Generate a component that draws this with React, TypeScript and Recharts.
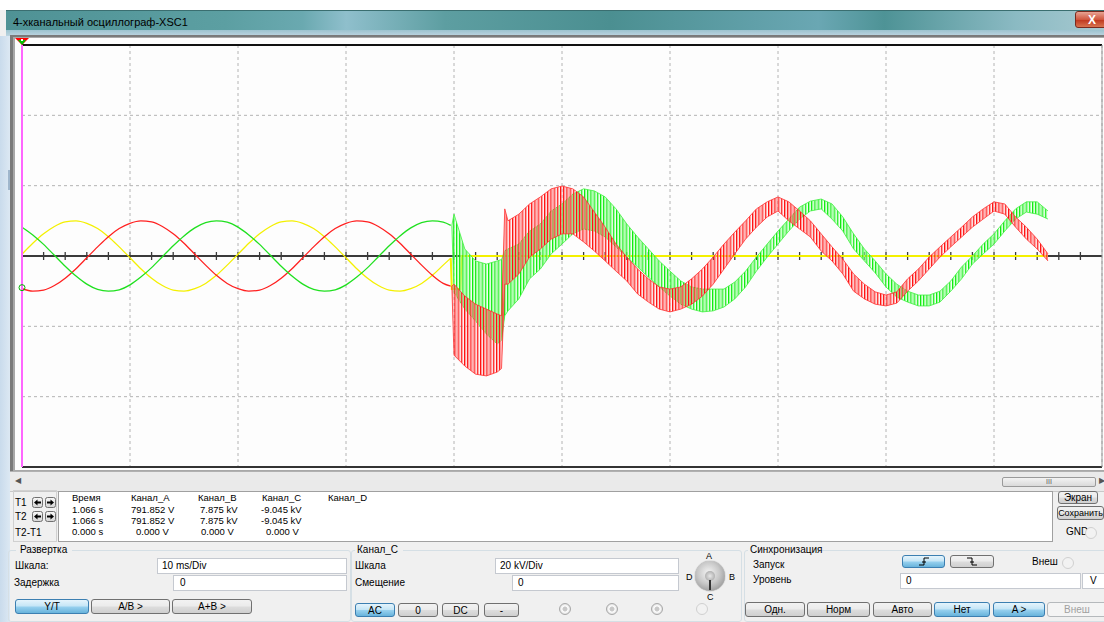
import React from 'react';
import {
  ComposedChart,
  Line,
  Area,
  Scatter,
  XAxis,
  YAxis,
  CartesianGrid,
  ReferenceLine,
  ReferenceDot,
} from 'recharts';

// ---------- DATA (time in ms, values in kV; 10 ms/Div, 20 kV/Div) ----------
const gridTimes = [0, 10, 20, 30, 40, 50, 60, 70, 80, 90, 100];
const gridLevels = [-60, -40, -20, 0, 20, 40, 60];
const axisTickTimes = [
  2, 4, 6, 8, 10, 12, 14, 16, 18, 20, 22, 24, 26, 28, 30, 32, 34, 36, 38, 40, 42, 44, 46, 48, 50,
  52, 54, 56, 58, 60, 62, 64, 66, 68, 70, 72, 74, 76, 78, 80, 82, 84, 86, 88, 90, 92, 94, 96, 98,
];

// before the fault
const preTimes = [
  0, 1, 2, 3, 4, 5, 6, 7, 8, 9, 10, 11, 12, 13, 14, 15, 16, 17, 18, 19,
  20, 21, 22, 23, 24, 25, 26, 27, 28, 29, 30, 31, 32, 33, 34, 35, 36, 37, 38, 39, 39.7,
];
const yellowPre = [
  0.5, 3.6, 6.3, 8.4, 9.7, 10.0, 9.3, 7.8, 5.5, 2.6, -0.5, -3.6, -6.3, -8.4, -9.7, -10.0, -9.3, -7.8, -5.5, -2.6,
  0.5, 3.6, 6.3, 8.4, 9.7, 10.0, 9.3, 7.8, 5.5, 2.6, -0.5, -3.6, -6.3, -8.4, -9.7, -10.0, -9.3, -7.8, -5.5, -2.6, -0.6,
];
const redPre = [
  -9.3, -10.0, -9.7, -8.4, -6.3, -3.6, -0.5, 2.6, 5.5, 7.8, 9.3, 10.0, 9.7, 8.4, 6.3, 3.6, 0.5, -2.6, -5.5, -7.8,
  -9.3, -10.0, -9.7, -8.4, -6.3, -3.6, -0.5, 2.6, 5.5, 7.8, 9.3, 10.0, 9.7, 8.4, 6.3, 3.6, 0.5, -2.6, -5.5, -7.8, -8.6,
];
const greenPre = [
  8.2, 6.0, 3.3, 0.2, -2.9, -5.7, -8.0, -9.5, -10.0, -9.6, -8.2, -6.0, -3.3, -0.2, 2.9, 5.7, 8.0, 9.5, 10.0, 9.6,
  8.2, 6.0, 3.3, 0.2, -2.9, -5.7, -8.0, -9.5, -10.0, -9.6, -8.2, -6.0, -3.3, -0.2, 2.9, 5.7, 8.0, 9.5, 10.0, 9.6, 8.7,
];

// channel A after the fault
const yellowFaultTimes = [39.7, 39.8, 40.6, 40.7, 95];
const yellowFaultValues = [-0.6, -9.4, -9.4, 0, 0];

// channels B and C after the fault: envelopes of the fast oscillation
const bandTimes = [
  39.8, 40, 41, 42, 43, 44, 44.4, 44.7, 45, 46, 47, 48, 49, 50, 51, 52, 53, 54, 55, 56, 57, 58, 59,
  60, 61, 62, 63, 64, 65, 66, 67, 68, 69, 70, 71, 72, 73, 74, 75, 76, 77, 78, 79, 80, 81, 82, 83,
  84, 85, 86, 87, 88, 89, 90, 91, 92, 93, 94, 95,
];
const redLow = [
  -8.6, -28.2, -31.3, -33.6, -34.1, -33.0, -32.0, -8.0, -8.0, -5.1, -0.3, 2.0, 4.8, 6.3, 6.3, 4.0, 1.4, -1.4, -4.3, -7.1, -10.8, -13.1, -15.1,
  -15.9, -15.1, -13.7, -11.4, -8.0, -3.7, 0.6, 4.8, 8.2, 11.1, 12.8, 10.0, 7.7, 5.4, 1.4, -1.4, -5.1, -10.0, -12.2, -13.7, -14.2, -13.4, -10.0, -7.1,
  -3.7, -0.3, 2.6, 5.4, 8.2, 10.5, 12.8, 11.9, 8.2, 4.8, 2.0, -1.4,
];
const redHigh = [
  -8.6, -8.0, -11.4, -13.7, -15.1, -16.5, -17.0, 13.4, 10.0, 11.9, 14.8, 16.8, 19.1, 19.9, 19.1, 16.8, 12.5, 8.2, 3.4, -0.3, -3.7, -6.5, -8.8,
  -9.4, -8.8, -6.5, -3.7, -0.3, 3.4, 6.8, 10.0, 13.4, 15.4, 16.8, 15.4, 12.8, 10.0, 6.3, 2.6, -0.9, -5.1, -8.0, -10.2, -11.1, -10.2, -6.5, -3.7,
  -0.3, 2.6, 5.4, 8.2, 11.1, 13.4, 15.4, 14.8, 11.1, 8.2, 4.8, 0.6,
];
const greenLow = [
  8.7, -10.3, -15.1, -18.5, -22.2, -25.0, -24.0, -17.0, -15.6, -12.2, -6.5, -3.7, 0.6, 3.4, 6.3, 7.7, 7.1, 5.4, 2.6, -0.3, -3.1, -6.0, -8.8,
  -11.4, -13.7, -15.1, -15.9, -15.6, -14.5, -12.2, -8.8, -4.3, -0.3, 3.4, 7.1, 10.5, 12.8, 13.4, 10.5, 7.1, 2.0, -1.4, -4.8, -8.8, -11.7, -13.1, -14.2,
  -14.2, -13.1, -10.0, -6.5, -2.3, 0.6, 3.4, 7.1, 10.5, 12.5, 11.9, 10.5,
];
const greenHigh = [
  8.7, 11.9, 2.0, -1.4, -2.3, -1.4, -1.0, 1.5, 2.0, 3.4, 7.1, 9.1, 12.8, 14.8, 17.6, 19.1, 18.5, 16.8, 13.4, 9.1, 5.4, 2.0, -1.4,
  -4.3, -7.1, -8.8, -9.4, -9.4, -9.4, -7.4, -4.3, -0.3, 3.4, 7.1, 10.5, 13.9, 15.6, 16.2, 14.8, 11.1, 6.3, 2.0, -1.4, -5.1, -8.0, -10.0, -11.1,
  -11.1, -10.0, -7.1, -3.1, 0.0, 3.4, 6.3, 10.0, 13.4, 15.4, 15.4, 12.8,
];

const cursorT1 = 0;
const cursorMarkerValue = -9.0;

// readout table
const readoutHeaders = ['Время', 'Канал_A', 'Канал_B', 'Канал_C', 'Канал_D'];
const readoutT1 = ['1.066 s', '791.852 V', '7.875 kV', '-9.045 kV'];
const readoutT2 = ['1.066 s', '791.852 V', '7.875 kV', '-9.045 kV'];
const readoutDiff = ['0.000 s', '0.000 V', '0.000 V', '0.000 V'];

// ---------- tables built for the library ----------
const preData = preTimes.map((t, i) => ({ t, yellow: yellowPre[i], red: redPre[i], green: greenPre[i] }));
const yellowFaultData = yellowFaultTimes.map((t, i) => ({ t, yellow: yellowFaultValues[i] }));
const bandData = bandTimes.map((t, i) => ({
  t,
  redBand: [redLow[i], redHigh[i]],
  greenBand: [greenLow[i], greenHigh[i]],
}));
const axisData = [
  { t: 0, v: 0 },
  { t: 100, v: 0 },
];
const tickData = axisTickTimes.map((t) => ({ t, v: 0 }));

const FONT = '"Liberation Sans", Arial, sans-serif';

// ---------- UI helpers ----------
const Txt = ({ x, y, children, size = 10, color = '#000', w }: any) => (
  <div
    style={{
      position: 'absolute',
      left: x,
      top: y - 7,
      height: 14,
      lineHeight: '14px',
      fontSize: size,
      color,
      whiteSpace: 'nowrap',
      fontFamily: FONT,
      width: w,
    }}
  >
    {children}
  </div>
);

const Btn = ({ x, y, w, h, children, active, disabled, size = 10 }: any) => (
  <div
    style={{
      position: 'absolute',
      left: x,
      top: y,
      width: w,
      height: h,
      boxSizing: 'border-box',
      border: `1px solid ${active ? '#3c7fb1' : disabled ? '#b5b9bc' : '#707070'}`,
      borderRadius: 3,
      background: active
        ? 'linear-gradient(#e5f4fc, #c4e5f6 48%, #98d1ef 52%, #68b3db)'
        : disabled
        ? '#f4f4f4'
        : 'linear-gradient(#f2f2f2, #ebebeb 48%, #dddddd 52%, #cfcfcf)',
      display: 'flex',
      alignItems: 'center',
      justifyContent: 'center',
      fontSize: size,
      fontFamily: FONT,
      color: disabled ? '#a0a0a0' : '#000',
      overflow: 'hidden',
      whiteSpace: 'nowrap',
    }}
  >
    {children}
  </div>
);

const Input = ({ x, y, w, h, children, pad = 4 }: any) => (
  <div
    style={{
      position: 'absolute',
      left: x,
      top: y,
      width: w,
      height: h,
      boxSizing: 'border-box',
      border: '1px solid #c5c9d0',
      background: '#fff',
      fontSize: 10,
      fontFamily: FONT,
      lineHeight: `${h - 2}px`,
      paddingLeft: pad,
    }}
  >
    {children}
  </div>
);

const Radio = ({ x, y, dot }: any) => (
  <div
    style={{
      position: 'absolute',
      left: x - 6,
      top: y - 6,
      width: 12,
      height: 12,
      borderRadius: 6,
      boxSizing: 'border-box',
      border: `1px solid ${dot ? '#a8a8a8' : '#d0d0d0'}`,
      background: dot ? 'radial-gradient(circle, #c8c8c8 0 2px, #ffffff 3px, #e0e0e0 5px)' : '#f2f2f2',
    }}
  />
);

const GroupBox = ({ x, y, w, h }: any) => (
  <div
    style={{
      position: 'absolute',
      left: x,
      top: y,
      width: w,
      height: h,
      boxSizing: 'border-box',
      border: '1px solid #d5dfe5',
      borderRadius: 3,
    }}
  />
);

const ArrowBtn = ({ x, y, dir }: any) => (
  <svg style={{ position: 'absolute', left: x, top: y }} width={11} height={11}>
    <defs>
      <linearGradient id={'ab' + dir + y} x1="0" y1="0" x2="0" y2="1">
        <stop offset="0" stopColor="#f8f8f8" />
        <stop offset="1" stopColor="#d4d4d4" />
      </linearGradient>
    </defs>
    <rect x={0.5} y={0.5} width={10} height={10} rx={2} fill={`url(#ab${dir}${y})`} stroke="#707070" />
    {dir === 'l' ? (
      <polygon points="2,5.5 5.5,2.5 5.5,4.5 9,4.5 9,6.5 5.5,6.5 5.5,8.5" fill="#000" />
    ) : (
      <polygon points="9,5.5 5.5,2.5 5.5,4.5 2,4.5 2,6.5 5.5,6.5 5.5,8.5" fill="#000" />
    )}
  </svg>
);

const TickMark = (props: any) => {
  const { cx, cy } = props;
  return <line x1={cx} x2={cx} y1={cy - 4} y2={cy + 4} stroke="#3a3a3a" strokeWidth={1.3} />;
};

const Scope = () => (
  <ComposedChart
    width={1104}
    height={470}
    margin={{ top: 45, right: 2, bottom: 3, left: 22 }}
    style={{ position: 'absolute', left: 0, top: 0 }}
  >
    <defs>
      <pattern id="redHatch" x="0" y="0" width="3.2" height="6" patternUnits="userSpaceOnUse">
        <rect x="0" y="0" width="1.1" height="6" fill="#ff0000" />
        <rect x="1.1" y="0" width="1.1" height="6" fill="#ff8e8e" />
      </pattern>
      <pattern id="greenHatch" x="1.6" y="0" width="3.2" height="6" patternUnits="userSpaceOnUse">
        <rect x="0" y="0" width="1.1" height="6" fill="#00e800" />
        <rect x="1.1" y="0" width="1.1" height="6" fill="#8cff8c" />
      </pattern>
    </defs>
    <XAxis type="number" dataKey="t" domain={[0, 100]} ticks={gridTimes} hide allowDataOverflow />
    <YAxis type="number" domain={[-60, 60]} ticks={gridLevels} hide allowDataOverflow />
    <CartesianGrid stroke="#b4b4b4" strokeDasharray="3 3" />
    <ReferenceLine y={60} stroke="#111" strokeWidth={2} />
    <ReferenceLine y={-60} stroke="#333" strokeWidth={2} />
    <ReferenceLine x={100} stroke="#999" strokeWidth={1} />
    <Line
      data={axisData}
      dataKey="v"
      stroke="#3a3a3a"
      strokeWidth={2}
      dot={false}
      activeDot={false}
      isAnimationActive={false}
      zIndex={90}
    />
    <Scatter data={tickData} dataKey="v" shape={TickMark} isAnimationActive={false} zIndex={95} />
    <Line
      data={preData}
      dataKey="yellow"
      type="monotone"
      stroke="#f4f000"
      strokeWidth={1.3}
      dot={false}
      activeDot={false}
      isAnimationActive={false}
      zIndex={400}
    />
    <Line
      data={preData}
      dataKey="red"
      type="monotone"
      stroke="#ff2020"
      strokeWidth={1.3}
      dot={false}
      activeDot={false}
      isAnimationActive={false}
      zIndex={400}
    />
    <Line
      data={preData}
      dataKey="green"
      type="monotone"
      stroke="#20e020"
      strokeWidth={1.3}
      dot={false}
      activeDot={false}
      isAnimationActive={false}
      zIndex={400}
    />
    <Line
      data={yellowFaultData}
      dataKey="yellow"
      type="linear"
      stroke="#f4f000"
      strokeWidth={2}
      dot={false}
      activeDot={false}
      isAnimationActive={false}
      zIndex={405}
    />
    <Area
      data={bandData}
      dataKey="greenBand"
      type="linear"
      stroke="#3ef03e"
      strokeWidth={0.8}
      fill="url(#greenHatch)"
      fillOpacity={1}
      dot={false}
      activeDot={false}
      isAnimationActive={false}
      zIndex={410}
    />
    <Area
      data={bandData}
      dataKey="redBand"
      type="linear"
      stroke="#ff3030"
      strokeWidth={0.8}
      fill="url(#redHatch)"
      fillOpacity={1}
      dot={false}
      activeDot={false}
      isAnimationActive={false}
      zIndex={420}
    />
    <ReferenceLine x={cursorT1} stroke="#ff66ff" strokeWidth={2} zIndex={500} />
    <ReferenceDot x={cursorT1} y={cursorMarkerValue} r={3} fill="none" stroke="#00b000" strokeWidth={1} zIndex={510} />
  </ComposedChart>
);

export default function App() {
  const colX = [72, 131, 198, 262, 328];
  const valX = [72, 131, 200, 261];
  const diffX = [72, 136, 201, 266];
  return (
    <div
      style={{
        position: 'absolute',
        left: 0,
        top: 0,
        width: 1104,
        height: 622,
        overflow: 'hidden',
        background: '#f0f0f0',
        fontFamily: FONT,
      }}
    >
      {/* white strip above window */}
      <div style={{ position: 'absolute', left: 0, top: 0, width: 1104, height: 10, background: '#ffffff' }} />
      {/* title bar */}
      <div
        style={{
          position: 'absolute',
          left: 6,
          top: 10,
          width: 1098,
          height: 27,
          background:
            'linear-gradient(90deg, #4f9295 0%, #5c9fa2 20%, #6aa9b0 27%, #8fbfcc 31%, #5d9ea1 40%, #4b8f91 55%, #6aa7b3 74%, #4e9396 80%, #8bbac3 92%, #a7c9d0 100%)',
          borderTop: '1px solid #3a6e70',
        }}
      />
      <div
        style={{
          position: 'absolute',
          left: 6,
          top: 30,
          width: 1098,
          height: 7,
          background: 'linear-gradient(#9cc3cf, #c2d7e3)',
        }}
      />
      <Txt x={13} y={22} size={11}>
        4-хканальный осциллограф-XSC1
      </Txt>
      {/* close button */}
      <div
        style={{
          position: 'absolute',
          left: 1075,
          top: 11,
          width: 40,
          height: 17,
          borderRadius: 3,
          border: '1px solid #7a2a1e',
          background: 'linear-gradient(#e8a393, #d0573f 50%, #c13a20 55%, #d8744f)',
          color: '#fff',
          fontSize: 12,
          fontWeight: 'bold',
          lineHeight: '16px',
          paddingLeft: 12,
          boxSizing: 'border-box',
          fontFamily: FONT,
        }}
      >
        X
      </div>
      {/* left window frame */}
      <div
        style={{
          position: 'absolute',
          left: 0,
          top: 36,
          width: 10,
          height: 586,
          background: 'linear-gradient(90deg, #c9dbec, #dce8f3)',
        }}
      />
      <div style={{ position: 'absolute', left: 8, top: 170, width: 3, height: 20, background: '#9fb6cc' }} />
      {/* plot frame */}
      <div
        style={{
          position: 'absolute',
          left: 10,
          top: 35,
          width: 1094,
          height: 437,
          background: '#7a7a7a',
        }}
      />
      <div
        style={{
          position: 'absolute',
          left: 13,
          top: 37,
          width: 1091,
          height: 434,
          background: '#a8a8a8',
        }}
      />
      <div style={{ position: 'absolute', left: 15, top: 38, width: 1089, height: 432, background: '#fdfdfd' }} />
      <Scope />
      {/* cursor triangle marker */}
      <svg style={{ position: 'absolute', left: 14, top: 37 }} width={16} height={10}>
        <polygon points="1,1 15,1 8,8" fill="#ff0000" />
        <polygon points="4,3 12,3 8,8" fill="#00c000" />
        <rect x={7} y={2} width={2} height={2} fill="#ffffff" />
      </svg>
      {/* scrollbar */}
      <div
        style={{
          position: 'absolute',
          left: 10,
          top: 471,
          width: 1094,
          height: 19,
          background: '#eaeaea',
          borderTop: '1px solid #b0b0b0',
          borderBottom: '1px solid #c8c8c8',
        }}
      />
      <Txt x={15} y={481} size={8} color="#555">
        ◀
      </Txt>
      <div
        style={{
          position: 'absolute',
          left: 1002,
          top: 477,
          width: 94,
          height: 10,
          boxSizing: 'border-box',
          border: '1px solid #9a9a9a',
          borderRadius: 2,
          background: 'linear-gradient(#f3f3f3, #dadada)',
          fontSize: 7,
          lineHeight: '8px',
          textAlign: 'center',
          color: '#555',
          fontFamily: FONT,
        }}
      >
        III
      </div>
      <Txt x={1099} y={481} size={8} color="#555">
        ▶
      </Txt>
      {/* T1/T2 controls */}
      <div
        style={{
          position: 'absolute',
          left: 13,
          top: 490,
          width: 44,
          height: 52,
          boxSizing: 'border-box',
          border: '1px solid #d0d0d0',
        }}
      />
      <Txt x={15} y={503}>T1</Txt>
      <Txt x={15} y={517}>T2</Txt>
      <Txt x={15} y={533}>T2-T1</Txt>
      <ArrowBtn x={32} y={497} dir="l" />
      <ArrowBtn x={45} y={497} dir="r" />
      <ArrowBtn x={32} y={511} dir="l" />
      <ArrowBtn x={45} y={511} dir="r" />
      {/* readout box */}
      <div
        style={{
          position: 'absolute',
          left: 58,
          top: 491,
          width: 995,
          height: 51,
          boxSizing: 'border-box',
          border: '1px solid #a0a0a0',
          background: '#ffffff',
        }}
      />
      {readoutHeaders.map((h, i) => (
        <Txt key={h} x={colX[i]} y={498} size={9.5}>
          {h}
        </Txt>
      ))}
      {readoutT1.map((v, i) => (
        <Txt key={'a' + i} x={valX[i]} y={510} size={9.5}>
          {v}
        </Txt>
      ))}
      {readoutT2.map((v, i) => (
        <Txt key={'b' + i} x={valX[i]} y={521} size={9.5}>
          {v}
        </Txt>
      ))}
      {readoutDiff.map((v, i) => (
        <Txt key={'c' + i} x={diffX[i]} y={532} size={9.5}>
          {v}
        </Txt>
      ))}
      {/* right buttons */}
      <Btn x={1058} y={491} w={40} h={13}>
        Экран
      </Btn>
      <Btn x={1057} y={506} w={47} h={14} size={9}>
        Сохранить
      </Btn>
      <Txt x={1066} y={532}>GND</Txt>
      <Radio x={1091} y={533} />

      {/* Развертка */}
      <GroupBox x={8} y={550} w={343} h={72} />
      <div style={{ position: 'absolute', left: 16, top: 544, width: 56, height: 12, background: '#f0f0f0' }} />
      <Txt x={20} y={550}>Развертка</Txt>
      <Txt x={15} y={566}>Шкала:</Txt>
      <Input x={157} y={558} w={190} h={16}>
        10 ms/Div
      </Input>
      <Txt x={14} y={583}>Задержка</Txt>
      <Input x={173} y={575} w={174} h={16} pad={6}>
        0
      </Input>
      <Btn x={15} y={599} w={74} h={15} active>
        Y/T
      </Btn>
      <Btn x={91} y={599} w={79} h={15}>
        A/B &gt;
      </Btn>
      <Btn x={172} y={599} w={80} h={15}>
        A+B &gt;
      </Btn>

      {/* Канал_C */}
      <GroupBox x={351} y={550} w={391} h={72} />
      <div style={{ position: 'absolute', left: 355, top: 544, width: 48, height: 12, background: '#f0f0f0' }} />
      <Txt x={357} y={550}>Канал_C</Txt>
      <Txt x={355} y={566}>Шкала</Txt>
      <Input x={495} y={558} w={184} h={16}>
        20 kV/Div
      </Input>
      <Txt x={355} y={583}>Смещение</Txt>
      <Input x={512} y={575} w={167} h={16} pad={5}>
        0
      </Input>
      <Txt x={706} y={556} size={9}>A</Txt>
      <Txt x={729} y={577} size={9}>B</Txt>
      <Txt x={707} y={597} size={9}>C</Txt>
      <Txt x={686} y={577} size={9}>D</Txt>
      <div
        style={{
          position: 'absolute',
          left: 695,
          top: 561,
          width: 30,
          height: 30,
          borderRadius: 15,
          background: 'radial-gradient(circle at 45% 40%, #f4f4f4 0, #c8c8c8 45%, #7c7c7c 100%)',
          boxShadow: '0 0 1px #555',
        }}
      />
      <div
        style={{
          position: 'absolute',
          left: 705,
          top: 571,
          width: 10,
          height: 10,
          borderRadius: 5,
          background: 'radial-gradient(circle, #e8e8e8, #9a9a9a)',
        }}
      />
      <div style={{ position: 'absolute', left: 709, top: 580, width: 2, height: 10, background: '#333' }} />
      <Btn x={355} y={603} w={40} h={14} active>
        AC
      </Btn>
      <Btn x={398} y={603} w={40} h={14}>
        0
      </Btn>
      <Btn x={442} y={603} w={37} h={14}>
        DC
      </Btn>
      <Btn x={484} y={603} w={35} h={14}>
        -
      </Btn>
      <Radio x={565} y={609} dot />
      <Radio x={612} y={609} dot />
      <Radio x={657} y={609} dot />
      <Radio x={702} y={609} />

      {/* Синхронизация */}
      <GroupBox x={744} y={550} w={370} h={72} />
      <div style={{ position: 'absolute', left: 748, top: 544, width: 68, height: 12, background: '#f0f0f0' }} />
      <Txt x={750} y={550}>Синхронизация</Txt>
      <Txt x={753} y={565}>Запуск</Txt>
      <Btn x={902} y={555} w={43} h={13} active>
        <svg width={12} height={9}>
          <polyline points="1,8 6,8 6,1 11,1" fill="none" stroke="#000" strokeWidth={1} />
          <line x1={4} y1={5} x2={8} y2={5} stroke="#000" strokeWidth={1} />
        </svg>
      </Btn>
      <Btn x={950} y={555} w={44} h={13}>
        <svg width={12} height={9}>
          <polyline points="1,1 6,1 6,8 11,8" fill="none" stroke="#000" strokeWidth={1} />
          <line x1={4} y1={5} x2={8} y2={5} stroke="#000" strokeWidth={1} />
        </svg>
      </Btn>
      <Txt x={1032} y={562}>Внеш</Txt>
      <Radio x={1068} y={563} />
      <Txt x={753} y={580}>Уровень</Txt>
      <Input x={900} y={573} w={181} h={16} pad={5}>
        0
      </Input>
      <Input x={1082} y={573} w={24} h={16} pad={7}>
        V
      </Input>
      <Btn x={745} y={602} w={60} h={15}>
        Одн.
      </Btn>
      <Btn x={807} y={602} w={63} h={15}>
        Норм
      </Btn>
      <Btn x={873} y={602} w={59} h={15}>
        Авто
      </Btn>
      <Btn x={934} y={602} w={56} h={15} active>
        Нет
      </Btn>
      <Btn x={993} y={602} w={52} h={15} active>
        A &gt;
      </Btn>
      <Btn x={1047} y={602} w={60} h={15} disabled>
        Внеш
      </Btn>
    </div>
  );
}
